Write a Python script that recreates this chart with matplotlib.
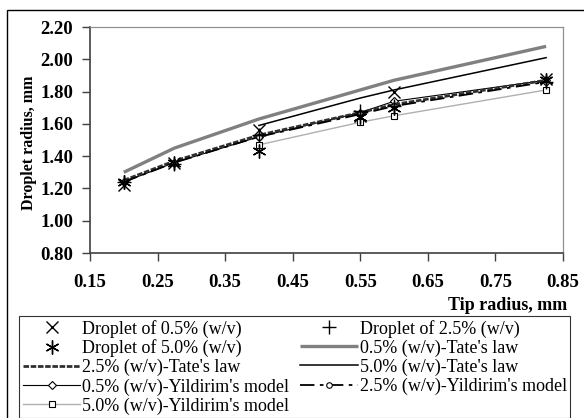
import matplotlib
matplotlib.use("Agg")
import matplotlib.pyplot as plt
import matplotlib.patches as mpatches

plt.rcParams['font.family'] = ['Liberation Serif', 'DejaVu Serif']

# tip radius, mm
r_tip = [0.20, 0.275, 0.40, 0.55, 0.60, 0.825]
r_tip5 = [0.40, 0.55, 0.60, 0.825]

# measured droplets
drop_05 = [1.22, 1.36, 1.56, 1.65, 1.80, 1.88]
drop_25 = [1.24, 1.35, 1.53, 1.68, 1.71, 1.86]
drop_50 = [1.24, 1.36, 1.43, 1.64, 1.70, 1.87]

# Tate's law
tate_05 = [1.30, 1.45, 1.63, 1.81, 1.87, 2.08]
tate_25 = [1.25, 1.37, 1.53, 1.67, 1.72, 1.87]
tate_50 = [1.59, 1.76, 1.81, 2.01]

# Yildirim's model
yil_05 = [1.24, 1.36, 1.52, 1.67, 1.74, 1.87]
yil_25 = [1.24, 1.36, 1.52, 1.66, 1.71, 1.86]
yil_50 = [1.47, 1.61, 1.65, 1.81]

fig = plt.figure(figsize=(5.84, 4.18), dpi=100)
ax = fig.add_axes([90/584, 1-253/418, (563-90)/584, (253-27)/418])

# lines
l_t05, = ax.plot(r_tip, tate_05, color='#808080', lw=2.4, solid_capstyle='butt')
l_t50, = ax.plot(r_tip5, tate_50, color='black', lw=1.1)
l_y50, = ax.plot(r_tip5, yil_50, color='#b0b0b0', lw=1.0, marker='s', ms=5,
                 mfc='white', mec='black', mew=0.8)
l_y05, = ax.plot(r_tip, yil_05, color='black', lw=0.8, marker='D', ms=4,
                 mfc='white', mec='black', mew=0.8)
l_t25, = ax.plot(r_tip, tate_25, color='#303030', lw=2.0, dashes=(2, 0.6))
l_y25, = ax.plot(r_tip, yil_25, color='black', lw=1.3, marker='o', ms=4,
                 mfc='white', mec='black', mew=0.8, dashes=(8, 3, 2, 3))

# droplets
m05, = ax.plot(r_tip, drop_05, ls='none', marker='x', ms=8, mew=1.0, color='black')
m25, = ax.plot(r_tip, drop_25, ls='none', marker='+', ms=10, mew=1.0, color='black')
m50, = ax.plot(r_tip, drop_50, ls='none', marker=(6, 2, 0), ms=10, mew=1.0, color='black')

ax.set_xlim(0.15, 0.85)
ax.set_ylim(0.80, 2.20)
ax.set_xticks([0.15, 0.25, 0.35, 0.45, 0.55, 0.65, 0.75, 0.85])
ax.set_yticks([0.80, 1.00, 1.20, 1.40, 1.60, 1.80, 2.00, 2.20])
ax.set_xticklabels(['%.2f' % v for v in ax.get_xticks()], fontweight='bold', fontsize=13.5)
ax.set_yticklabels(['%.2f' % v for v in ax.get_yticks()], fontweight='bold', fontsize=13.5)
ax.tick_params(axis='x', direction='out', length=6, width=1, pad=9, color='#404040')
ax.tick_params(axis='y', direction='out', length=6, width=1, pad=6, color='#404040')

for s in ['left', 'bottom']:
    ax.spines[s].set_color('#404040')
    ax.spines[s].set_linewidth(1.2)
for s in ['top', 'right']:
    ax.spines[s].set_color('#909090')
    ax.spines[s].set_linewidth(0.9)

ax.set_ylabel('Droplet radius, mm', fontweight='bold', fontsize=11.5)
ax.yaxis.set_label_coords(-0.112, 0.49)
fig.text(508/584, 1-305/418, 'Tip radius, mm', fontweight='bold', fontsize=13,
         ha='center', va='center')

handles = [m05, m50, l_t25, l_y05, l_y50, m25, l_t05, l_t50, l_y25]
labels = ['Droplet of 0.5% (w/v)', 'Droplet of 5.0% (w/v)', "2.5% (w/v)-Tate's law",
          "0.5% (w/v)-Yildirim's model", "5.0% (w/v)-Yildirim's model",
          'Droplet of 2.5% (w/v)', "0.5% (w/v)-Tate's law", "5.0% (w/v)-Tate's law",
          "2.5% (w/v)-Yildirim's model"]
leg = fig.legend(handles, labels, ncol=2, loc='upper left',
                 bbox_to_anchor=(19/584, 1-316/418), fontsize=13,
                 frameon=True, fancybox=False, edgecolor='black',
                 handlelength=3.2, handletextpad=0.1, columnspacing=0.6,
                 labelspacing=0.1, borderpad=0.2, borderaxespad=0)
leg.get_frame().set_linewidth(0.8)

# outer chart border
fig.patches.append(mpatches.Rectangle((7/584, -0.1), 1.2, 1-10/418+0.1,
                                      transform=fig.transFigure, fill=False,
                                      edgecolor='black', lw=1.0))

fig.savefig('out.png', dpi=100)
